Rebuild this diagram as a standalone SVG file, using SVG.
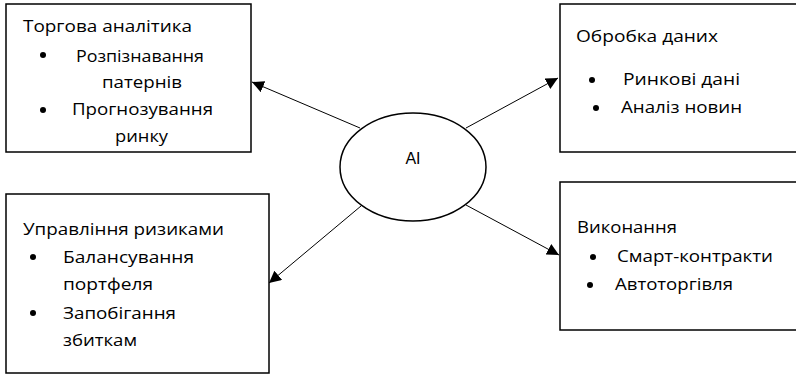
<svg xmlns="http://www.w3.org/2000/svg" width="796" height="375" viewBox="0 0 796 375">
<defs>
<style>
.box{fill:#fff;stroke:#000;stroke-width:1.5}
.t{font-family:"Open Sans","Noto Sans",sans-serif;font-size:16px;fill:#000}
.ai{font-family:"Liberation Sans",Arial,sans-serif;font-size:16px;fill:#000}
.ln{stroke:#000;stroke-width:1;fill:none}
</style>
<marker id="ah" viewBox="0 0 10 10" refX="10" refY="5" markerWidth="12" markerHeight="12" markerUnits="userSpaceOnUse" orient="auto">
<path d="M0,0 L10,5 L0,10 z" fill="#000"/>
</marker>
</defs>
<rect width="796" height="375" fill="#fff"/>
<g id="trading">
<rect class="box" x="6" y="4" width="245" height="148"/>
<text class="t" x="23" y="32" textLength="169" lengthAdjust="spacingAndGlyphs">Торгова аналітика</text>
<circle cx="43" cy="55" r="3"/>
<text class="t" x="76" y="62" textLength="128" lengthAdjust="spacingAndGlyphs">Розпізнавання</text>
<text class="t" x="102" y="88" textLength="80" lengthAdjust="spacingAndGlyphs">патернів</text>
<circle cx="43" cy="110" r="3"/>
<text class="t" x="72" y="115" textLength="141" lengthAdjust="spacingAndGlyphs">Прогнозування</text>
<text class="t" x="115" y="142" textLength="53" lengthAdjust="spacingAndGlyphs">ринку</text>
</g>
<g id="data">
<rect class="box" x="560" y="4" width="240" height="148"/>
<text class="t" x="576" y="42" textLength="142" lengthAdjust="spacingAndGlyphs">Обробка даних</text>
<circle cx="592" cy="80" r="3"/>
<text class="t" x="623" y="85" textLength="117" lengthAdjust="spacingAndGlyphs">Ринкові дані</text>
<circle cx="596" cy="108" r="3"/>
<text class="t" x="621" y="113" textLength="121" lengthAdjust="spacingAndGlyphs">Аналіз новин</text>
</g>
<g id="risk">
<rect class="box" x="6" y="194" width="263" height="179"/>
<text class="t" x="23" y="235" textLength="201" lengthAdjust="spacingAndGlyphs">Управління ризиками</text>
<circle cx="33" cy="257" r="3"/>
<text class="t" x="63" y="263" textLength="131" lengthAdjust="spacingAndGlyphs">Балансування</text>
<text class="t" x="63" y="290" textLength="90" lengthAdjust="spacingAndGlyphs">портфеля</text>
<circle cx="33" cy="313" r="3"/>
<text class="t" x="63" y="319" textLength="113" lengthAdjust="spacingAndGlyphs">Запобігання</text>
<text class="t" x="63" y="346" textLength="74" lengthAdjust="spacingAndGlyphs">збиткам</text>
</g>
<g id="exec">
<rect class="box" x="560" y="182" width="240" height="148"/>
<text class="t" x="577" y="233" textLength="100" lengthAdjust="spacingAndGlyphs">Виконання</text>
<circle cx="593" cy="257" r="3"/>
<text class="t" x="617" y="262" textLength="156" lengthAdjust="spacingAndGlyphs">Смарт-контракти</text>
<circle cx="590" cy="285" r="3"/>
<text class="t" x="615" y="290" textLength="118" lengthAdjust="spacingAndGlyphs">Автоторгівля</text>
</g>
<g id="ai">
<ellipse cx="413" cy="167" rx="73" ry="54" fill="#fff" stroke="#000" stroke-width="1.5"/>
<text class="ai" x="413" y="164" text-anchor="middle">AI</text>
</g>
<g id="connectors">
<line class="ln" x1="360" y1="128" x2="252" y2="82" marker-end="url(#ah)"/>
<line class="ln" x1="466" y1="128" x2="558" y2="78" marker-end="url(#ah)"/>
<line class="ln" x1="361" y1="206" x2="269" y2="283" marker-end="url(#ah)"/>
<line class="ln" x1="466" y1="205" x2="559" y2="255" marker-end="url(#ah)"/>
</g>
</svg>
